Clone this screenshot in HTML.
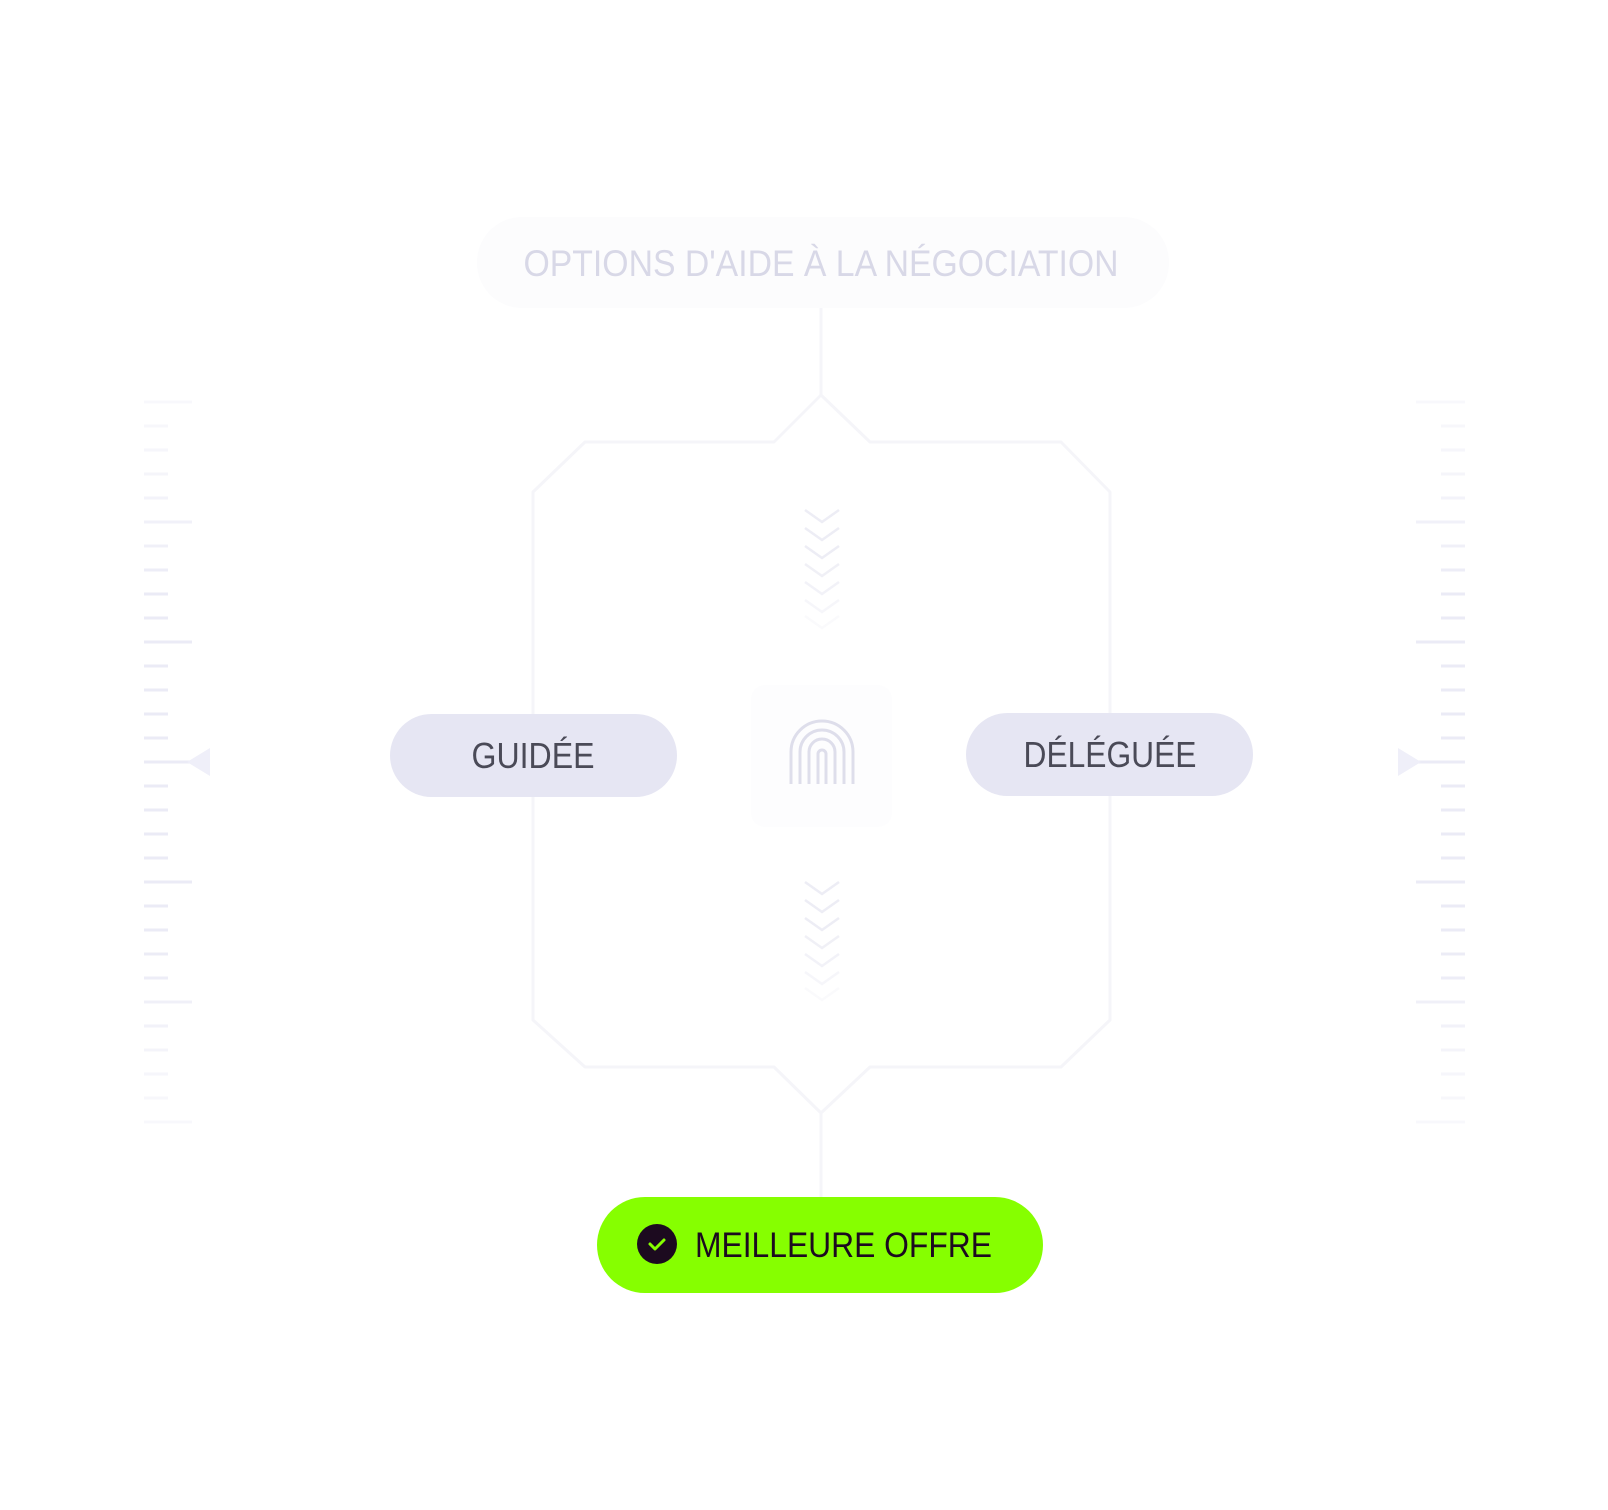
<!DOCTYPE html>
<html><head><meta charset="utf-8"><style>
html,body{margin:0;padding:0;background:#fff;}
svg{display:block;}
text{font-family:"Liberation Sans",sans-serif;}
</style></head><body>
<svg width="1608" height="1510" viewBox="0 0 1608 1510" xmlns="http://www.w3.org/2000/svg">
<rect width="1608" height="1510" fill="#fff"/>
<!-- ticks -->
<g stroke="#ebebf6" stroke-width="3">
<line x1="144" y1="402" x2="192" y2="402" opacity="0.3"/><line x1="1416" y1="402" x2="1465" y2="402" opacity="0.3"/>
<line x1="144" y1="426" x2="168" y2="426" opacity="0.35"/><line x1="1441" y1="426" x2="1465" y2="426" opacity="0.35"/>
<line x1="144" y1="450" x2="168" y2="450" opacity="0.4"/><line x1="1441" y1="450" x2="1465" y2="450" opacity="0.4"/>
<line x1="144" y1="474" x2="168" y2="474" opacity="0.45"/><line x1="1441" y1="474" x2="1465" y2="474" opacity="0.45"/>
<line x1="144" y1="498" x2="168" y2="498" opacity="0.55"/><line x1="1441" y1="498" x2="1465" y2="498" opacity="0.55"/>
<line x1="144" y1="522" x2="192" y2="522" opacity="0.65"/><line x1="1416" y1="522" x2="1465" y2="522" opacity="0.65"/>
<line x1="144" y1="546" x2="168" y2="546" opacity="0.75"/><line x1="1441" y1="546" x2="1465" y2="546" opacity="0.75"/>
<line x1="144" y1="570" x2="168" y2="570" opacity="0.85"/><line x1="1441" y1="570" x2="1465" y2="570" opacity="0.85"/>
<line x1="144" y1="594" x2="168" y2="594"/><line x1="1441" y1="594" x2="1465" y2="594"/>
<line x1="144" y1="618" x2="168" y2="618"/><line x1="1441" y1="618" x2="1465" y2="618"/>
<line x1="144" y1="642" x2="192" y2="642"/><line x1="1416" y1="642" x2="1465" y2="642"/>
<line x1="144" y1="666" x2="168" y2="666"/><line x1="1441" y1="666" x2="1465" y2="666"/>
<line x1="144" y1="690" x2="168" y2="690"/><line x1="1441" y1="690" x2="1465" y2="690"/>
<line x1="144" y1="714" x2="168" y2="714"/><line x1="1441" y1="714" x2="1465" y2="714"/>
<line x1="144" y1="738" x2="168" y2="738"/><line x1="1441" y1="738" x2="1465" y2="738"/>
<line x1="144" y1="762" x2="192" y2="762"/><line x1="1416" y1="762" x2="1465" y2="762"/>
<line x1="144" y1="786" x2="168" y2="786"/><line x1="1441" y1="786" x2="1465" y2="786"/>
<line x1="144" y1="810" x2="168" y2="810"/><line x1="1441" y1="810" x2="1465" y2="810"/>
<line x1="144" y1="834" x2="168" y2="834"/><line x1="1441" y1="834" x2="1465" y2="834"/>
<line x1="144" y1="858" x2="168" y2="858"/><line x1="1441" y1="858" x2="1465" y2="858"/>
<line x1="144" y1="882" x2="192" y2="882"/><line x1="1416" y1="882" x2="1465" y2="882"/>
<line x1="144" y1="906" x2="168" y2="906"/><line x1="1441" y1="906" x2="1465" y2="906"/>
<line x1="144" y1="930" x2="168" y2="930"/><line x1="1441" y1="930" x2="1465" y2="930"/>
<line x1="144" y1="954" x2="168" y2="954" opacity="0.9"/><line x1="1441" y1="954" x2="1465" y2="954" opacity="0.9"/>
<line x1="144" y1="978" x2="168" y2="978" opacity="0.85"/><line x1="1441" y1="978" x2="1465" y2="978" opacity="0.85"/>
<line x1="144" y1="1002" x2="192" y2="1002" opacity="0.75"/><line x1="1416" y1="1002" x2="1465" y2="1002" opacity="0.75"/>
<line x1="144" y1="1026" x2="168" y2="1026" opacity="0.6"/><line x1="1441" y1="1026" x2="1465" y2="1026" opacity="0.6"/>
<line x1="144" y1="1050" x2="168" y2="1050" opacity="0.5"/><line x1="1441" y1="1050" x2="1465" y2="1050" opacity="0.5"/>
<line x1="144" y1="1074" x2="168" y2="1074" opacity="0.4"/><line x1="1441" y1="1074" x2="1465" y2="1074" opacity="0.4"/>
<line x1="144" y1="1098" x2="168" y2="1098" opacity="0.35"/><line x1="1441" y1="1098" x2="1465" y2="1098" opacity="0.35"/>
<line x1="144" y1="1122" x2="192" y2="1122" opacity="0.3"/><line x1="1416" y1="1122" x2="1465" y2="1122" opacity="0.3"/>
</g>
<polygon points="210,748 210,776 187,762" fill="#efeff9"/>
<polygon points="1398,748 1398,776 1421,762" fill="#efeff9"/>
<!-- frame -->
<g fill="none" stroke="#f5f5f9" stroke-width="3" stroke-linejoin="round">
<line x1="821" y1="308" x2="821" y2="395"/>
<path d="M821 395 L774 442 L585 442 L533 492 L533 1020 L585 1067 L774 1067 L821 1113 L870 1067 L1061 1067 L1110 1020 L1110 492 L1061 442 L870 442 Z"/>
<line x1="821" y1="1113" x2="821" y2="1200"/>
</g>
<!-- chevrons -->
<g fill="none" stroke="#ededf5" stroke-width="2.5">
<path d="M805 510 l17 12 l17 -12"/><path d="M805 528 l17 12 l17 -12"/><path d="M805 546 l17 12 l17 -12"/>
<path d="M805 564 l17 12 l17 -12" opacity="0.85"/><path d="M805 582 l17 12 l17 -12" opacity="0.7"/>
<path d="M805 600 l17 12 l17 -12" opacity="0.5"/><path d="M805 616 l17 12 l17 -12" opacity="0.3"/>
<path d="M805 882 l17 12 l17 -12"/><path d="M805 900 l17 12 l17 -12"/><path d="M805 918 l17 12 l17 -12"/>
<path d="M805 936 l17 12 l17 -12" opacity="0.85"/><path d="M805 954 l17 12 l17 -12" opacity="0.7"/>
<path d="M805 972 l17 12 l17 -12" opacity="0.5"/><path d="M805 988 l17 12 l17 -12" opacity="0.3"/>
</g>
<!-- top pill -->
<rect x="477" y="217" width="692" height="91" rx="45" fill="#fcfcfd"/>
<text x="821" y="276" text-anchor="middle" font-size="37" fill="#d8d8e7" textLength="595" lengthAdjust="spacingAndGlyphs">OPTIONS D'AIDE À LA NÉGOCIATION</text>
<!-- center square -->
<rect x="751" y="685" width="141" height="142" rx="14" fill="#fdfdfe"/>
<g fill="none" stroke="#dedeeb" stroke-width="3">
<path d="M791 784 V752 a31 31 0 0 1 62 0 V784"/>
<path d="M800 784 V752 a22 22 0 0 1 44 0 V784"/>
<path d="M809 784 V752 a13 13 0 0 1 26 0 V784"/>
<path d="M818 784 V754 a4 4 0 0 1 8 0 V784"/>
</g>
<!-- side pills -->
<rect x="390" y="714" width="287" height="83" rx="41.5" fill="#e6e6f3"/>
<text x="533" y="768" text-anchor="middle" font-size="36" fill="#4a4a57" textLength="123" lengthAdjust="spacingAndGlyphs">GUIDÉE</text>
<rect x="966" y="713" width="287" height="83" rx="41.5" fill="#e6e6f3"/>
<text x="1110" y="767" text-anchor="middle" font-size="36" fill="#4a4a57" textLength="173" lengthAdjust="spacingAndGlyphs">DÉLÉGUÉE</text>
<!-- green pill -->
<rect x="597" y="1197" width="446" height="96" rx="48" fill="#86ff00"/>
<circle cx="657" cy="1244" r="20" fill="#1c0a1f"/>
<path d="M650 1244 l5 5 l9 -9" fill="none" stroke="#86ff00" stroke-width="3" stroke-linecap="round" stroke-linejoin="round"/>
<text x="695" y="1257" font-size="35" fill="#1c0a1f" textLength="297" lengthAdjust="spacingAndGlyphs">MEILLEURE OFFRE</text>
</svg>
</body></html>
